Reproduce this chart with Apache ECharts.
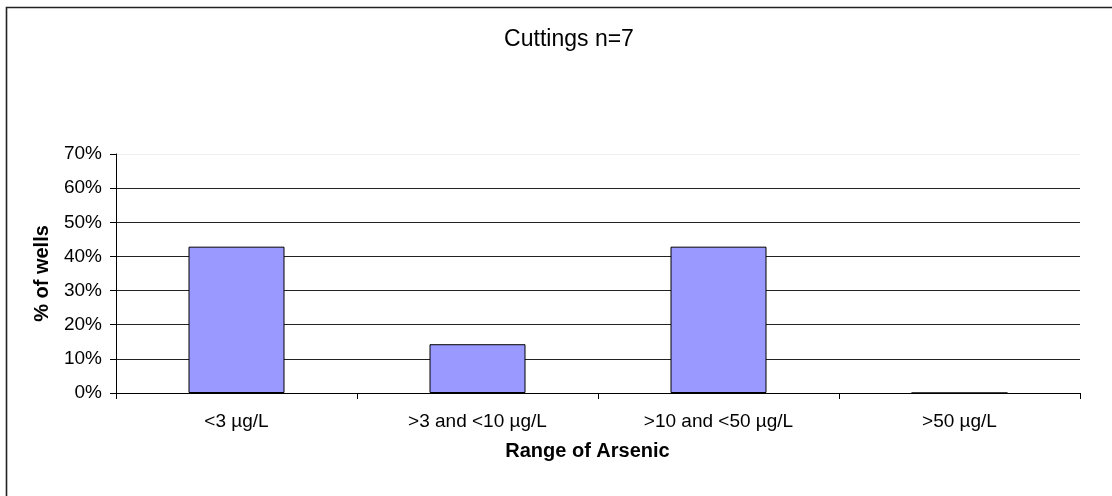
<!DOCTYPE html>
<html>
<head>
<meta charset="utf-8">
<script src="https://cdn.jsdelivr.net/npm/echarts@6/dist/echarts.min.js"></script>
<style>html,body{margin:0;padding:0;background:#fff;}#c{width:1112px;height:496px;}</style>
</head>
<body>
<div id="c"></div>
<script>
const categories = ['<3 µg/L', '>3 and <10 µg/L', '>10 and <50 µg/L', '>50 µg/L'];
const percentWells = [42.86, 14.29, 42.86, 0];
const yTicks = [0, 10, 20, 30, 40, 50, 60, 70];

const chart = echarts.init(document.getElementById('c'));
const FONT = '"Liberation Sans", Arial, sans-serif';
chart.setOption({
  animation: false,
  backgroundColor: '#fff',
  title: {
    text: 'Cuttings n=7',
    left: 564, top: 23, textAlign: 'center',
    textStyle: { fontFamily: FONT, fontSize: 23, fontWeight: 'normal', color: '#000' }
  },
  graphic: [{
    type: 'rect', silent: true,
    shape: { x: 6.5, y: 7.5, width: 1300, height: 700 },
    style: { fill: 'none', stroke: '#222', lineWidth: 1.6 }
  }],
  grid: { left: 116, right: 32, top: 154, bottom: 103 },
  xAxis: {
    type: 'category',
    data: categories,
    name: 'Range of Arsenic',
    nameLocation: 'middle',
    nameGap: 48,
    nameTextStyle: { fontFamily: FONT, fontSize: 20, fontWeight: 'bold', color: '#000', padding: [0, 21, 0, 0] },
    axisLine: { lineStyle: { color: '#000', width: 1 } },
    axisTick: { show: true, alignWithLabel: false, length: 6, lineStyle: { color: '#000' } },
    axisLabel: { fontFamily: FONT, fontSize: 19, color: '#000', margin: 19 },
    splitLine: { show: false }
  },
  yAxis: {
    type: 'value',
    min: 0, max: 70, interval: 10,
    name: '% of wells',
    nameLocation: 'middle',
    nameGap: 64,
    nameTextStyle: { fontFamily: FONT, fontSize: 20, fontWeight: 'bold', color: '#000' },
    axisLine: { show: true, lineStyle: { color: '#000', width: 1 } },
    axisTick: { show: true, length: 6, lineStyle: { color: '#000' } },
    axisLabel: {
      fontFamily: FONT, fontSize: 19, color: '#000', margin: 14,
      formatter: function (v) { return yTicks.indexOf(v) >= 0 ? v + '%' : ''; }
    },
    splitLine: { show: true, lineStyle: { color: ['#222', '#222', '#222', '#222', '#222', '#222', '#222', '#eeeeee'], width: 1 } }
  },
  series: [{
    type: 'bar',
    data: percentWells,
    barWidth: 96,
    itemStyle: { color: '#9999FF', borderColor: '#000', borderWidth: 1 }
  }]
});
</script>
</body>
</html>
